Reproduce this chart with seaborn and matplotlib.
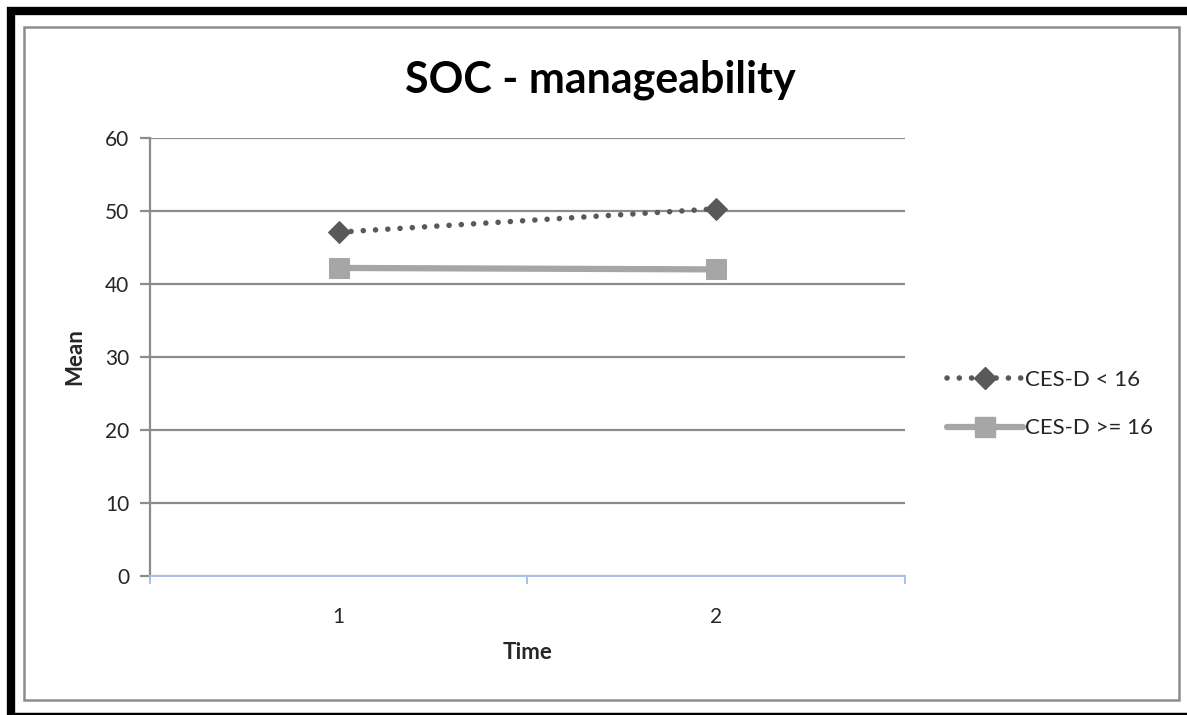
import matplotlib
matplotlib.use("Agg")
import matplotlib.pyplot as plt
import seaborn as sns
import pandas as pd
from matplotlib.lines import Line2D
from matplotlib.patches import Rectangle

time_points = [1, 2]
ces_low = [47.1, 50.3]
ces_high = [42.2, 42.0]
series_names = ["CES-D < 16", "CES-D >= 16"]
title = "SOC - manageability"

sns.set_theme(style="white")
plt.rcParams['font.family'] = ['Lato', 'DejaVu Sans']

W, H = 1187, 715
fig = plt.figure(figsize=(W/100, H/100), dpi=100)
ax = fig.add_axes([150/W, 1-576/H, (905-150)/W, (576-138)/H])

df = pd.DataFrame({
    "Time": time_points * 2,
    "Mean": ces_low + ces_high,
    "Group": [series_names[0]]*2 + [series_names[1]]*2,
})

DOT = (0, (0.01, 2.2))

sns.lineplot(data=df[df.Group == series_names[1]], x="Time", y="Mean", ax=ax,
             color="#a6a6a6", linewidth=4.5, marker="s", markersize=14,
             markeredgecolor="#a6a6a6", label=series_names[1], zorder=3)
sns.lineplot(data=df[df.Group == series_names[0]], x="Time", y="Mean", ax=ax,
             color="#595959", linewidth=4.0, marker="D", markersize=11,
             markeredgecolor="#595959", label=series_names[0], zorder=4)
for ln in ax.get_lines():
    if ln.get_label() == series_names[0]:
        ln.set_linestyle(DOT)
        ln.set_dash_capstyle("round")

ax.set_xlim(0.5, 2.5)
ax.set_ylim(0, 60)
ax.set_yticks(range(0, 61, 10))
ax.set_xticks(time_points)
ax.set_xticks([0.5, 1.5, 2.5], minor=True)
ax.yaxis.grid(True, color="#8c8c8c", linewidth=1.6)
ax.set_axisbelow(True)
for s in ["top", "right"]:
    ax.spines[s].set_visible(False)
ax.spines["left"].set_color("#8c8c8c")
ax.spines["left"].set_linewidth(1.6)
ax.spines["bottom"].set_color("#a9c2e8")
ax.spines["bottom"].set_linewidth(1.4)
ax.tick_params(axis="y", which="major", left=True, length=7, width=1.6,
               color="#8c8c8c", labelsize=15, pad=8)
ax.tick_params(axis="x", which="major", bottom=False, labelsize=15, pad=16)
ax.tick_params(axis="x", which="minor", bottom=True, length=6, width=1.4,
               color="#a9c2e8")
ax.set_xlabel("Time", fontsize=16, fontweight="bold", labelpad=11)
ax.set_ylabel("Mean", fontsize=16, fontweight="bold", labelpad=14)
ax.get_legend().remove()
fig.text(600/W, 1-80/H, title, fontsize=31, fontweight="bold",
         ha="center", va="center", color="black")

handles = [
    Line2D([0], [0], color="#595959", linewidth=4.0, linestyle=DOT,
           dash_capstyle="round", marker="D", markersize=11,
           markeredgecolor="#595959"),
    Line2D([0], [0], color="#a6a6a6", linewidth=4.5, marker="s", markersize=14,
           markeredgecolor="#a6a6a6"),
]
fig.legend(handles, series_names, loc="center left",
           bbox_to_anchor=(927/W, 1-404/H), frameon=False, fontsize=16,
           handlelength=3.4, handletextpad=0.1, labelspacing=1.3)

fig.patches.append(Rectangle((24/W, 1-700/H), (1179-24)/W, (700-27)/H,
                             transform=fig.transFigure, fill=False,
                             edgecolor="#8c8c8c", linewidth=1.8))
fig.lines.append(Line2D([11/W, 11/W, 1.0], [0.0, 1-11/H, 1-11/H],
                        transform=fig.transFigure, color="black", linewidth=6,
                        solid_joinstyle="miter"))
fig.lines.append(Line2D([11/W, 1.0], [1.5/H, 1.5/H],
                        transform=fig.transFigure, color="black", linewidth=2.5))

fig.savefig("out.png", dpi=100)
